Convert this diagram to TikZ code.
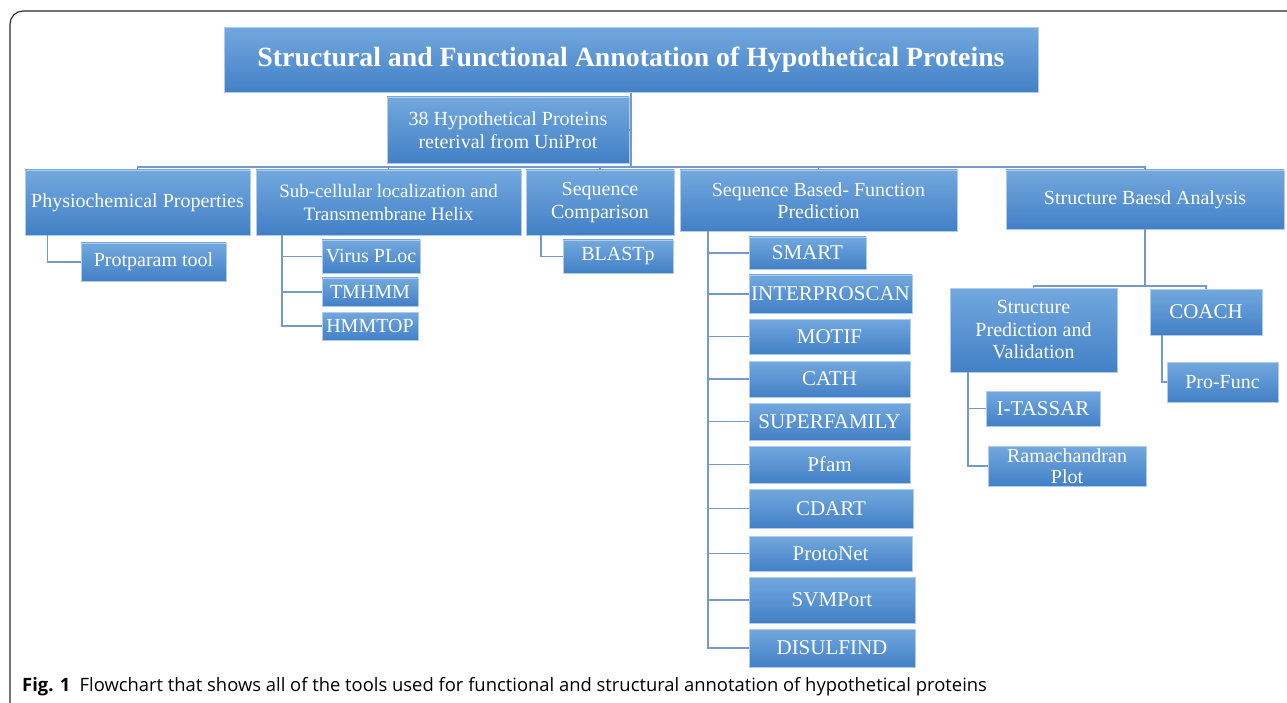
\documentclass[tikz,border=0pt]{standalone}
\usepackage{fontspec}
\setmainfont{Liberation Serif}
\newfontfamily\capfont{Open Sans}
\definecolor{btop}{RGB}{114,168,222}
\definecolor{bbot}{RGB}{66,128,198}
\definecolor{bline}{RGB}{175,204,236}
\definecolor{connc}{RGB}{118,154,200}
\definecolor{framec}{RGB}{40,40,40}
\tikzset{
  box/.style={rectangle, top color=btop, bottom color=bbot, draw=bline, line width=0.8pt,
    text=white, align=center, inner sep=1pt,
    font=\fontsize{20}{22.5}\selectfont},
  leaf/.style={box, font=\fontsize{21}{22.5}\selectfont},
  conn/.style={draw=connc, line width=1.8pt},
}
\begin{document}
\begin{tikzpicture}[x=1pt,y=-1pt]
\useasboundingbox (0,0) rectangle (1287,703);
\fill[white] (0,0) rectangle (1287,703);
% frame
\draw[framec, line width=1.1pt, rounded corners=13] (10,703) -- (10,11) -- (1287,11);

% nodes
\node[box, minimum width=814, minimum height=65, font=\bfseries\fontsize{27.8}{30}\selectfont] (title) at (631,60) {Structural and Functional Annotation of Hypothetical Proteins};
\node[box, minimum width=242, minimum height=66] (hyp) at (508,130) {38 Hypothetical Proteins\\reterival from UniProt};

\node[box, minimum width=225, minimum height=65] (phys) at (137.5,202.5) {Physiochemical Properties};
\node[box, minimum width=265, minimum height=65, font=\fontsize{19}{22.5}\selectfont] (sub) at (388.5,202.5) {Sub-cellular localization and\\Transmembrane Helix};
\node[box, minimum width=148, minimum height=65] (seqc) at (600,202.5) {Sequence\\Comparison};
\node[box, minimum width=277, minimum height=61] (sbf) at (818.5,200.5) {Sequence Based- Function\\Prediction};
\node[box, minimum width=278, minimum height=59] (sba) at (1145,199.5) {Structure Baesd Analysis};

\node[box, minimum width=145, minimum height=38] (prot) at (153.5,262) {Protparam tool};
\node[box, minimum width=98, minimum height=33] (virus) at (371,256.5) {Virus PLoc};
\node[box, minimum width=96, minimum height=28] (tmhmm) at (370,292) {TMHMM};
\node[box, minimum width=96, minimum height=28] (hmmtop) at (370,326) {HMMTOP};
\node[box, minimum width=110, minimum height=33] (blastp) at (618,256.5) {BLASTp};

\node[leaf, minimum width=117, minimum height=32] (smart) at (807.5,253) {SMART};
\node[leaf, minimum width=163, minimum height=38] (interpro) at (830.5,294) {INTERPROSCAN};
\node[leaf, minimum width=161, minimum height=35] (motif) at (829.5,336.5) {MOTIF};
\node[leaf, minimum width=161, minimum height=36] (cath) at (829.5,379) {CATH};
\node[leaf, minimum width=161, minimum height=37] (superfam) at (829.5,421.5) {SUPERFAMILY};
\node[leaf, minimum width=161, minimum height=37] (pfam) at (829.5,464.5) {Pfam};
\node[leaf, minimum width=164, minimum height=39] (cdart) at (831,508.5) {CDART};
\node[leaf, minimum width=163, minimum height=35] (protonet) at (830.5,553.5) {ProtoNet};
\node[leaf, minimum width=166, minimum height=46] (svmport) at (832,600) {SVMPort};
\node[leaf, minimum width=166, minimum height=38] (disulfind) at (832,648) {DISULFIND};

\node[box, minimum width=167, minimum height=84] (spv) at (1033.5,330) {Structure\\Prediction and\\Validation};
\node[leaf, minimum width=112, minimum height=46] (coach) at (1206,312) {COACH};
\node[leaf, minimum width=114, minimum height=35] (itassar) at (1043,408.5) {I-TASSAR};
\node[box, minimum width=158, minimum height=40, font=\fontsize{20}{21}\selectfont] (rama) at (1067,466) {Ramachandran\\Plot};
\node[box, minimum width=111, minimum height=40] (profunc) at (1222.5,382) {Pro-Func};

% connectors
\coordinate (bus) at (631,167);
\coordinate (bus2) at (1145,286);
\draw[conn] (title.south -| bus) -- (bus);
\draw[conn] (hyp.east) -- (hyp.east -| bus);
\draw[conn] (phys.north) |- (sba.north |- bus) -- (sba.north);
\draw[conn] (sub.north) -- (sub.north |- bus);
\draw[conn] (seqc.north) -- (seqc.north |- bus);
\draw[conn] (sbf.north) -- (sbf.north |- bus);

\draw[conn] ([xshift=-90]phys.south) |- (prot.west);
\draw[conn] ([xshift=26]sub.south west) |- (virus.west);
\draw[conn] ([xshift=26]sub.south west) |- (tmhmm.west);
\draw[conn] ([xshift=26]sub.south west) |- (hmmtop.west);
\draw[conn] ([xshift=15]seqc.south west) |- (blastp.west);
\foreach \n in {smart,interpro,motif,cath,superfam,pfam,cdart,protonet,svmport,disulfind}
  \draw[conn] ([xshift=28]sbf.south west) |- (\n.west);

\draw[conn] (sba.south) -- (bus2);
\draw[conn] (spv.north) |- (bus2) -| (coach.north);
\draw[conn] ([xshift=18]spv.south west) |- (itassar.west);
\draw[conn] ([xshift=18]spv.south west) |- (rama.west);
\draw[conn] ([xshift=12]coach.south west) |- (profunc.west);

% caption
\node[anchor=base west, inner sep=0, font=\capfont\fontsize{18.4}{20}\selectfont] (cap) at (22,691)
  {\textbf{Fig. 1}\enspace Flowchart that shows all of the tools used for functional and structural annotation of hypothetical proteins};
\end{tikzpicture}
\end{document}
